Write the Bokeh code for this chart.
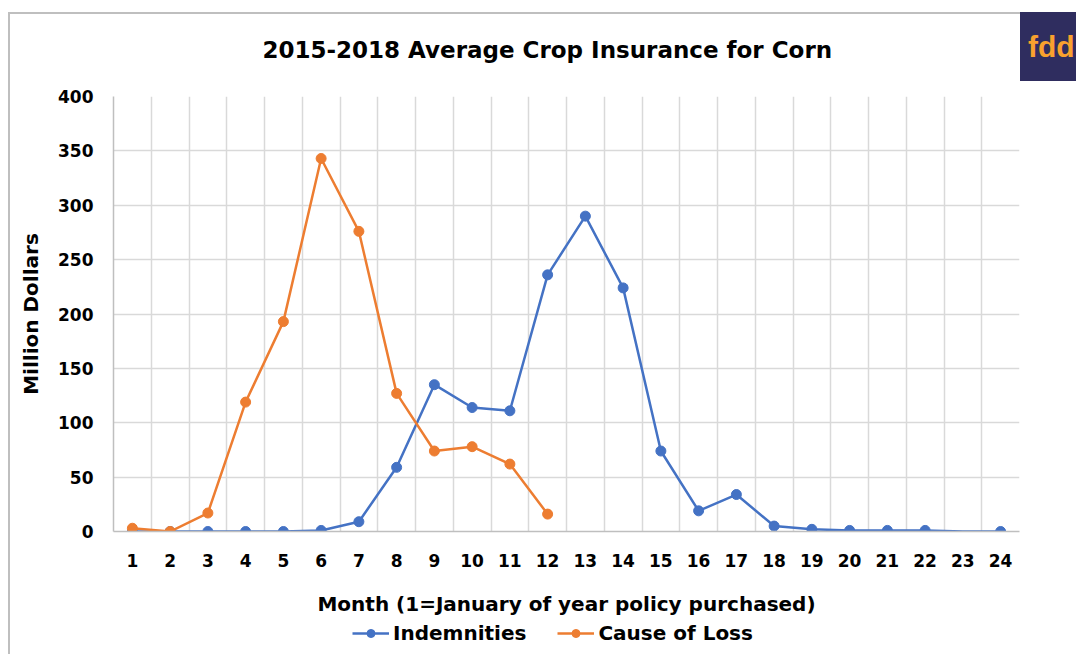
from bokeh.plotting import figure
from bokeh.layouts import column
from bokeh.models import (FixedTicker, Range1d, Legend, LegendItem,
                          ColumnDataSource, InlineStyleSheet)
from bokeh.embed import file_html
from bokeh.resources import INLINE

months = list(range(1, 25))
month_labels = [str(m) for m in months]
indemnities = [0, 0, 0, 0, 0, 1, 9, 59, 135, 114, 111, 236, 290, 224, 74, 19, 34, 5, 2, 1, 1, 1, 0, 0]
indem_marker_shown = [True] * 22 + [False, True]
cause_months = list(range(1, 13))
cause_of_loss = [3, 0, 17, 119, 193, 343, 276, 127, 74, 78, 62, 16]
y_ticks = [0, 50, 100, 150, 200, 250, 300, 350, 400]
series_names = ["Indemnities", "Cause of Loss"]

BLUE = "#4472c4"
ORANGE = "#ed7d31"
FONT = "DejaVu Sans"

p = figure(frame_width=906, frame_height=435, output_backend="svg", toolbar_location=None,
           x_range=Range1d(months[0] - 0.5, months[-1] + 0.5),
           y_range=Range1d(y_ticks[0], y_ticks[-1]),
           min_border_left=113, min_border_right=57, min_border_top=96,
           min_border_bottom=86)
p.outline_line_color = None
p.background_fill_color = "white"
p.border_fill_color = "white"

# title
p.title.text = "2015-2018 Average Crop Insurance for Corn"
p.title.align = "left"
p.title.offset = 149
p.title.standoff = 67
p.title.text_font = FONT
p.title.text_font_style = "bold"
p.title.text_font_size = "23px"
p.title.text_color = "black"

# axes
p.xaxis.ticker = FixedTicker(ticks=months)
p.xaxis.major_label_overrides = {m: s for m, s in zip(months, month_labels)}
p.yaxis.ticker = FixedTicker(ticks=y_ticks)
for ax in (p.xaxis[0], p.yaxis[0]):
    ax.axis_line_color = "#bfbfbf"
    ax.axis_line_width = 1.5
    ax.major_tick_line_color = None
    ax.minor_tick_line_color = None
    ax.major_label_text_font = FONT
    ax.major_label_text_font_style = "bold"
    ax.major_label_text_font_size = "17px"
    ax.major_label_text_color = "black"
    ax.axis_label_text_font = FONT
    ax.axis_label_text_font_style = "bold"
    ax.axis_label_text_font_size = "20px"
    ax.axis_label_text_color = "black"
p.xaxis.major_label_standoff = 16
p.yaxis.major_label_standoff = 14
p.xaxis.axis_label = "Month (1=January of year policy purchased)"
p.xaxis.axis_label_standoff = 22
p.yaxis.axis_label = "Million Dollars"
p.yaxis.axis_label_standoff = 12

p.xgrid.ticker = FixedTicker(ticks=[m + 0.5 for m in [months[0] - 1] + months])
p.ygrid.ticker = FixedTicker(ticks=y_ticks)
for g in (p.xgrid[0], p.ygrid[0]):
    g.grid_line_color = "#d9d9d9"
    g.grid_line_width = 1.5

# data
src_i = ColumnDataSource(dict(x=months, y=indemnities))
src_im = ColumnDataSource(dict(
    x=[m for m, s in zip(months, indem_marker_shown) if s],
    y=[v for v, s in zip(indemnities, indem_marker_shown) if s]))
src_c = ColumnDataSource(dict(x=cause_months, y=cause_of_loss))

p.line("x", "y", source=src_i, line_color=BLUE, line_width=2.5)
p.scatter("x", "y", source=src_im, size=10, fill_color=BLUE, line_color=BLUE)
p.line("x", "y", source=src_c, line_color=ORANGE, line_width=2.5)
p.scatter("x", "y", source=src_c, size=10, fill_color=ORANGE, line_color=ORANGE)

# legend strip below the chart (series proxies kept out of its view)
lg = figure(width=1076, height=37, output_backend="svg", toolbar_location=None,
            x_range=Range1d(-20, -10), y_range=Range1d(-20, -10),
            x_axis_type=None, y_axis_type=None, min_border=0)
lg.outline_line_color = None
lg.xgrid.visible = False
lg.ygrid.visible = False
items = []
for name, col, src in zip(series_names, [BLUE, ORANGE], [src_i, src_c]):
    r1 = lg.line("x", "y", source=src, line_color=col, line_width=2.5)
    r2 = lg.scatter("x", "y", source=src, size=10, fill_color=col, line_color=col)
    items.append(LegendItem(label=name, renderers=[r1, r2]))
legend = Legend(items=items, orientation="horizontal", location=(239, 10),
                label_text_font=FONT, label_text_font_style="bold",
                label_text_font_size="20px", label_text_color="black",
                glyph_width=37, label_standoff=4, spacing=31,
                background_fill_alpha=0, border_line_color=None,
                padding=0, margin=0)
lg.add_layout(legend, "center")

# chart-area frame and logo (decorative, via CSS)
p.stylesheets = [InlineStyleSheet(css="""
:host::before {
  content: ""; position: absolute; left: 8px; top: 12px; right: -20px; bottom: 0px;
  border-left: 2px solid #bfbfbf; border-top: 2px solid #bfbfbf;
  pointer-events: none; z-index: 5;
}
:host::after {
  content: "fdd"; position: absolute; left: 1020px; top: 12px; width: 60px; height: 69px;
  background: #2f2d5f; color: #f9a12e; font: bold 30px Lato, sans-serif;
  line-height: 69px; padding-left: 8px; box-sizing: border-box; overflow: hidden;
  white-space: nowrap; pointer-events: none; z-index: 6;
}
""")]
lg.stylesheets = [InlineStyleSheet(css="""
:host::before {
  content: ""; position: absolute; left: 8px; top: 0px; bottom: 0px; width: 0px;
  border-left: 2px solid #bfbfbf; pointer-events: none; z-index: 5;
}
""")]

layout = column(p, lg, spacing=0)
open("out.html", "w").write(file_html(layout, INLINE))
